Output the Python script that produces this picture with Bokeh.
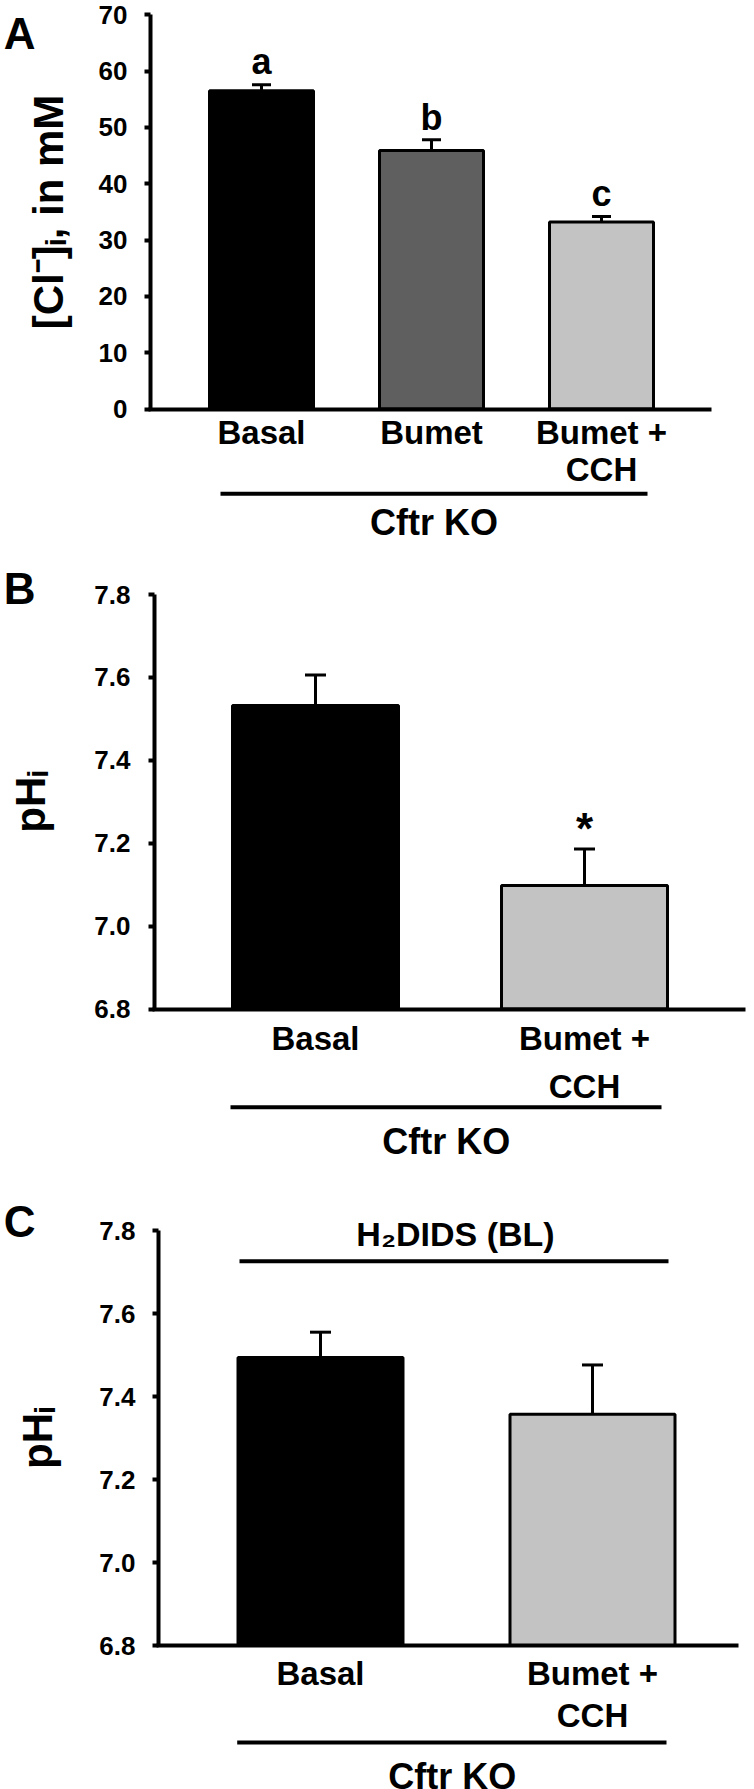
import numpy as np
from bokeh.plotting import figure
from bokeh.models import (ColumnDataSource, Range1d, FixedTicker, Whisker, TeeHead,
                          LinearAxis, NumeralTickFormatter)
from bokeh.layouts import column
from bokeh.embed import file_html
from bokeh.resources import INLINE
from bokeh.core.properties import value

FONT = "Liberation Sans"

# ---------------- data ----------------
# Panel A: intracellular Cl- (mM)
a_categories = ["Basal", "Bumet", "Bumet + CCH"]
a_tick_labels = ["Basal", "Bumet", "Bumet +\nCCH"]
a_means = [56.5, 45.9, 33.2]
a_errors = [1.1, 1.9, 1.0]
a_letters = ["a", "b", "c"]
a_colors = ["#000000", "#5f5f5f", "#c3c3c3"]
a_yticks = [0, 10, 20, 30, 40, 50, 60, 70]
a_ytick_labels = ["0", "10", "20", "30", "40", "50", "60", "70"]

# Panel B: pHi
b_categories = ["Basal", "Bumet + CCH"]
b_tick_labels = ["Basal", "Bumet +\nCCH"]
b_means = [7.532, 7.098]
b_errors = [0.074, 0.088]
b_marks = ["", "*"]
b_colors = ["#000000", "#c3c3c3"]

# Panel C: pHi with H2DIDS (BL)
c_categories = ["Basal", "Bumet + CCH"]
c_tick_labels = ["Basal", "Bumet +\nCCH"]
c_means = [7.494, 7.357]
c_errors = [0.061, 0.119]
c_colors = ["#000000", "#c3c3c3"]

ph_yticks = [6.8, 7.0, 7.2, 7.4, 7.6, 7.8]
ph_ytick_labels = ["6.8", "7.0", "7.2", "7.4", "7.6", "7.8"]

a_ylabel = "[Cl\u207b]\u1d62, in mM"
ph_ylabel = "pH\u1d62"
group_label = "Cftr KO"
treatment_label = "H\u2082DIDS (BL)"

W = 754
Q = 0.3   # baseline correction (em) for text glyphs


def make_fig(height, xr, yr):
    p = figure(width=W, height=height, x_range=Range1d(*xr), y_range=Range1d(*yr),
               min_border=0, min_border_left=0, min_border_right=0,
               min_border_top=0, min_border_bottom=0,
               toolbar_location=None, output_backend="svg",
               x_axis_location=None, y_axis_location=None)
    p.outline_line_color = None
    p.background_fill_color = "white"
    p.border_fill_color = "white"
    p.xgrid.visible = False
    p.ygrid.visible = False
    return p


def add_yaxis(p, ticks, labels, bounds, loc, standoff, fmt):
    ax = LinearAxis(ticker=FixedTicker(ticks=ticks), bounds=bounds, fixed_location=loc,
                    formatter=NumeralTickFormatter(format=fmt))
    ax.major_label_overrides = {t: s for t, s in zip(ticks, labels)}
    ax.axis_line_width = 4
    ax.axis_line_color = "black"
    ax.major_tick_line_width = 4
    ax.major_tick_out = 6
    ax.major_tick_in = 0
    ax.minor_tick_line_color = None
    ax.major_label_text_font = FONT
    ax.major_label_text_font_size = "26px"
    ax.major_label_text_font_style = "bold"
    ax.major_label_text_color = "black"
    ax.major_label_text_line_height = 1.0
    ax.major_label_standoff = standoff
    p.add_layout(ax, "left")


def add_side_text(p, loc, at, text, size, orientation):
    """A bare fixed axis whose single tick label carries a text (y title or panel letter)."""
    ax = LinearAxis(ticker=FixedTicker(ticks=[at]), fixed_location=loc)
    ax.major_label_overrides = {at: text}
    ax.axis_line_color = None
    ax.major_tick_line_color = None
    ax.minor_tick_line_color = None
    ax.major_tick_out = 0
    ax.major_tick_in = 0
    ax.major_label_standoff = 0
    ax.major_label_orientation = orientation
    ax.major_label_text_font = FONT
    ax.major_label_text_font_size = f"{size}px"
    ax.major_label_text_font_style = "bold"
    ax.major_label_text_color = "black"
    ax.major_label_text_line_height = 1.0
    p.add_layout(ax, "left")


def add_xaxis(p, positions, labels, base, bounds, standoff, line_height):
    ax = LinearAxis(ticker=FixedTicker(ticks=positions), fixed_location=base, bounds=bounds)
    ax.major_label_overrides = {int(t): s for t, s in zip(positions, labels)}
    ax.axis_line_width = 4
    ax.axis_line_color = "black"
    ax.major_tick_line_color = None
    ax.minor_tick_line_color = None
    ax.major_tick_out = 0
    ax.major_tick_in = 0
    ax.major_label_text_font = FONT
    ax.major_label_text_font_size = "33px"
    ax.major_label_text_font_style = "bold"
    ax.major_label_text_color = "black"
    ax.major_label_standoff = standoff
    ax.major_label_text_line_height = line_height
    p.add_layout(ax, "below")


def add_bars(p, positions, means, errors, colors, base, width, tee):
    src = ColumnDataSource(dict(x=positions, mean=means,
                                upper=[m + e for m, e in zip(means, errors)],
                                color=colors))
    p.vbar(x="x", top="mean", bottom=base, width=width, source=src,
           fill_color="color", line_color="black", line_width=3)
    wh = Whisker(source=src, base="x", lower="mean", upper="upper", dimension="height",
                 line_color="black", line_width=3, lower_head=None,
                 upper_head=TeeHead(size=tee, line_color="black", line_width=3))
    p.add_layout(wh)
    return src


def add_text(p, x, y, text, size, align="center"):
    p.text(x=[x], y=[y], text=[text], text_font=value(FONT),
           text_font_size=f"{size}px", text_font_style="bold", text_color="black",
           text_align=align, text_baseline="alphabetic")


# ---------------- Panel A (page y 0..560) ----------------
ax_pos = [int(v) for v in np.arange(1, len(a_categories) + 1)]
yA = lambda py: (408.6 - py) / 5.633      # page px -> data (layout helpers)
xA = lambda px: 1 + (px - 261) / 170.0
pA = make_fig(560, (xA(0), xA(W)), (yA(560), yA(0)))
add_yaxis(pA, a_yticks, a_ytick_labels, (0, 70), xA(150), 17, "0")
add_side_text(pA, xA(72), (a_yticks[0] + a_yticks[-1]) / 2, a_ylabel, 42, "vertical")
add_side_text(pA, xA(35), yA(16), "A", 44, "horizontal")
add_xaxis(pA, ax_pos, a_tick_labels, 0, (xA(148), xA(711)), 5, 1.0)
add_bars(pA, ax_pos, a_means, a_errors, a_colors, 0, 104 / 170.0, 19)
pA.text(x=ax_pos, y=[m + e + (12 + Q * 36) / 5.633 for m, e in zip(a_means, a_errors)],
        text=a_letters, text_font=value(FONT), text_font_size="36px", text_font_style="bold",
        text_align="center", text_baseline="alphabetic", text_color="black")
pA.segment(x0=[xA(220)], y0=[yA(493.3)], x1=[xA(647)], y1=[yA(493.3)],
           line_width=4, line_color="black")
add_text(pA, (xA(220) + xA(647)) / 2, yA(533 - Q * 36), group_label, 36)

# ---------------- Panel B (page y 560..1185) ----------------
bx_pos = [int(v) for v in np.arange(1, len(b_categories) + 1)]
yB = lambda py: 7.8 - (py - 594) / 414.5
xB = lambda px: 1 + (px - 315) / 269.0
pB = make_fig(625, (xB(0), xB(W)), (yB(1185), yB(560)))
add_yaxis(pB, ph_yticks, ph_ytick_labels, (6.8, 7.8), xB(154), 18, "0.0")
add_side_text(pB, xB(53), (ph_yticks[0] + ph_yticks[-1]) / 2, ph_ylabel, 42, "vertical")
add_side_text(pB, xB(35), yB(588), "B", 44, "horizontal")
add_xaxis(pB, bx_pos, b_tick_labels, 6.8, (xB(152), xB(745)), 11, 1.3)
add_bars(pB, bx_pos, b_means, b_errors, b_colors, 6.8, 166 / 269.0, 21)
pB.text(x=bx_pos, y=[m + e + 20.5 / 414.5 for m, e in zip(b_means, b_errors)], text=b_marks,
        text_font=value(FONT), text_font_size="44px", text_font_style="bold",
        text_align="center", text_baseline="alphabetic", text_color="black")
pB.segment(x0=[xB(230)], y0=[yB(1106.7)], x1=[xB(661)], y1=[yB(1106.7)],
           line_width=4, line_color="black")
add_text(pB, xB(445.8), yB(1152 - Q * 36), group_label, 36)

# ---------------- Panel C (page y 1185..1789) ----------------
cx_pos = [int(v) for v in np.arange(1, len(c_categories) + 1)]
yC = lambda py: 7.8 - (py - 1230) / 415.0
xC = lambda px: 1 + (px - 320) / 272.0
pC = make_fig(604, (xC(0), xC(W)), (yC(1789), yC(1185)))
add_yaxis(pC, ph_yticks, ph_ytick_labels, (6.8, 7.8), xC(158), 17, "0.0")
add_side_text(pC, xC(60), (ph_yticks[0] + ph_yticks[-1]) / 2, ph_ylabel, 42, "vertical")
add_side_text(pC, xC(35), yC(1221), "C", 44, "horizontal")
add_xaxis(pC, cx_pos, c_tick_labels, 6.8, (xC(156), xC(738)), 9, 1.14)
add_bars(pC, cx_pos, c_means, c_errors, c_colors, 6.8, 165 / 272.0, 21)
pC.segment(x0=[xC(239)], y0=[yC(1260.7)], x1=[xC(668)], y1=[yC(1260.7)],
           line_width=4, line_color="black")
add_text(pC, xC(455), yC(1244 - Q * 34), treatment_label, 34)
pC.segment(x0=[xC(236.7)], y0=[yC(1742)], x1=[xC(666)], y1=[yC(1742)],
           line_width=4, line_color="black")
add_text(pC, xC(451.7), yC(1787 - Q * 36), group_label, 36)

layout = column(pA, pB, pC, spacing=0)
open("out.html", "w").write(file_html(layout, INLINE))
